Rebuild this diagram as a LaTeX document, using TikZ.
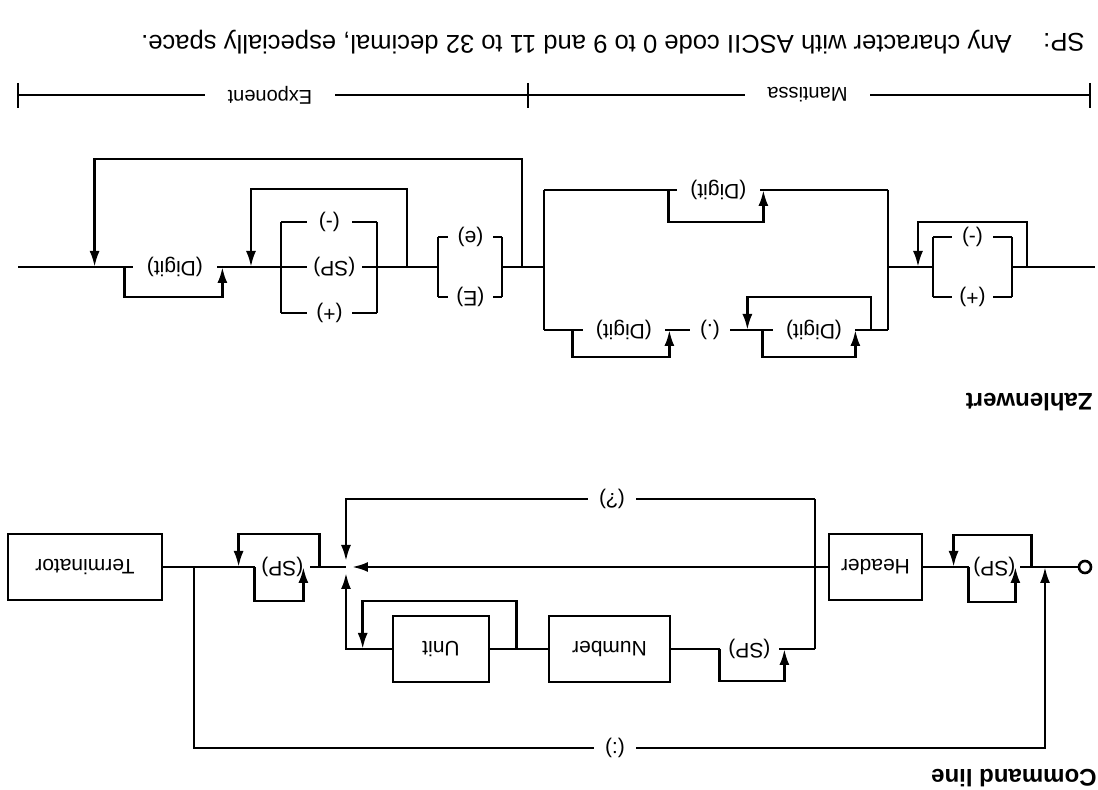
\documentclass[tikz,border=0pt]{standalone}
\usepackage{fontspec}
\setmainfont{Liberation Sans}
\usepackage{tikz}
\usetikzlibrary{arrows.meta, calc}
\tikzset{
  rail/.style={line width=1.3pt},
  arrow/.style={rail, -{Latex[length=8pt,width=5pt]}},
  box/.style={draw, line width=1.3pt, minimum width=#1, minimum height=33pt,
    inner sep=0pt, font=\fontsize{10.5}{12}\selectfont},
  term/.style={inner sep=0pt, minimum width=#1, font=\fontsize{10.5}{12}\selectfont},
  dimtext/.style={inner sep=0pt, minimum width=#1, font=\fontsize{10}{12}\selectfont},
  dim/.style={line width=1pt},
  title/.style={anchor=west, inner sep=0pt, font=\fontsize{12}{14}\selectfont\bfseries},
  note/.style={anchor=west, inner sep=0pt, font=\fontsize{12.8}{15}\selectfont}
}

\begin{document}
\begin{tikzpicture}[rotate=180, transform shape, x=0.5pt, y=0.5pt]
  \useasboundingbox (0,0) rectangle (1098,790);

  % === Command line ===
  \node[title] (cmdtitle) at (1,778) {Command line};

  \node[draw, circle, rail, minimum size=6pt, inner sep=0pt] (start) at (13,567) {};
  \node[term=25.5pt] (spa) at (103.5,567) {(SP)};
  \node[box=46.5pt] (header) at (222.5,567) {Header};
  \node[term=24pt] (quest) at (486,499) {(?)};
  \node[term=29.5pt] (spb) at (348.5,649) {(SP)};
  \node[box=60.5pt] (number) at (488.5,649) {Number};
  \node[box=48pt] (unit) at (657,649) {Unit};
  \node[term=27.5pt] (spc) at (815.5,567) {(SP)};
  \node[box=77pt] (terminator) at (1013,567) {Terminator};
  \node[term=21pt] (colon) at (483,748) {(:)};

  \coordinate (split) at (283,567);
  \coordinate (cross) at (752,567);
  \coordinate (back) at (904,567);
  \coordinate (colonin) at (53,567);

  \draw[rail] (start) -- (spa.west);
  \draw[rail] (spa.east) -- (header);
  \draw[arrow, shorten >=3pt] (header) -- (cross);
  \draw[rail] (split |- quest) -- (split |- spb);
  \draw[rail] (split |- quest) -- (quest.west);
  \draw[arrow, shorten >=3pt] (quest.east) -| (cross);
  \draw[rail] (split |- spb) -- (spb.west);
  \draw[rail] (spb.east) -- (number);
  \draw[rail] (number) -- (unit);
  \draw[arrow, shorten >=3pt] (unit) -| (cross);
  \draw[rail] (cross) -- (spc.west);
  \draw[rail] (spc.east) -- (terminator);

  % loops
  \draw[arrow] ($(spa.west)+(-11,0)$) -- ++(0,-32) -| ($(spa.east)+(15,0)$);
  \draw[arrow] (spa.east) -- ++(0,35) -| ($(spa.west)+(5,0)$);
  \draw[arrow] (spb.east) -- ++(0,32) -| ($(spb.west)+(-5,0)$);
  \draw[arrow] ($(number.east)+(31,0)$) -- ++(0,-48) -| ($(unit.east)+(29,0)$);
  \draw[arrow] ($(spc.west)+(-9,0)$) -- ++(0,-33) -| ($(spc.east)+(16,0)$);
  \draw[arrow] (spc.east) -- ++(0,34) -| ($(spc.west)+(7,0)$);
  \draw[rail] (back) |- (colon.east);
  \draw[arrow] (colon.west) -| (colonin);

  % === Zahlenwert ===
  \node[title] (zwtitle) at (5,402) {Zahlenwert};

  \node[term=20.5pt] (sgplus) at (125.5,297) {(+)};
  \node[term=20.5pt] (sgminus) at (125.5,237) {(-)};
  \node[term=41.5pt] (intdigit) at (379.5,190) {(Digit)};
  \node[term=41pt] (predigit) at (284,330) {(Digit)};
  \node[term=20pt] (point) at (388,330) {(.)};
  \node[term=41pt] (postdigit) at (474,330) {(Digit)};
  \node[term=22.5pt] (expbig) at (627.5,297) {(E)};
  \node[term=22.5pt] (expsmall) at (627.5,237) {(e)};
  \node[term=22.5pt] (esplus) at (768.5,313) {(+)};
  \node[term=27.5pt] (essp) at (763.5,267) {(SP)};
  \node[term=22.5pt] (esminus) at (768.5,222) {(-)};
  \node[term=42pt] (expdigit) at (923,267) {(Digit)};

  \coordinate (zin) at (3,267);
  \coordinate (zout) at (1080,267);
  \coordinate (signl) at (86,267);
  \coordinate (signr) at (165,267);
  \coordinate (mantl) at (210,267);
  \coordinate (mantr) at (554,267);
  \coordinate (eel) at (596,267);
  \coordinate (eer) at (660,267);
  \coordinate (esl) at (721,267);
  \coordinate (esr) at (817,267);

  \draw[rail] (zin) -- (signl);
  \draw[rail] (signl |- sgminus) -- (signl |- sgplus);
  \draw[rail] (signr |- sgminus) -- (signr |- sgplus);
  \draw[rail] (signl |- sgplus) -- (sgplus.west) (sgplus.east) -- (signr |- sgplus);
  \draw[rail] (signl |- sgminus) -- (sgminus.west) (sgminus.east) -- (signr |- sgminus);
  \draw[rail] (signr) -- (mantl);

  \draw[rail] (mantl |- intdigit) -- (mantl |- predigit);
  \draw[rail] (mantr |- intdigit) -- (mantr |- predigit);
  \draw[rail] (mantl |- intdigit) -- (intdigit.west) (intdigit.east) -- (mantr |- intdigit);
  \draw[rail] (mantl |- predigit) -- (predigit.west);
  \draw[rail] (predigit.east) -- (point.west);
  \draw[rail] (point.east) -- (postdigit.west);
  \draw[rail] (postdigit.east) -- (mantr |- postdigit);
  \draw[rail] (mantr) -- (eel);

  \draw[rail] (eel |- expsmall) -- (eel |- expbig);
  \draw[rail] (eer |- expsmall) -- (eer |- expbig);
  \draw[rail] (eel |- expbig) -- (expbig.west) (expbig.east) -- (eer |- expbig);
  \draw[rail] (eel |- expsmall) -- (expsmall.west) (expsmall.east) -- (eer |- expsmall);
  \draw[rail] (eer) -- (esl);

  \draw[rail] (esl |- esminus) -- (esl |- esplus);
  \draw[rail] (esr |- esminus) -- (esr |- esplus);
  \draw[rail] (esl |- esplus) -- (esplus.west) (esplus.east) -- (esr |- esplus);
  \draw[rail] (esl) -- (essp.west) (essp.east) -- (esr);
  \draw[rail] (esl |- esminus) -- (esminus.west) (esminus.east) -- (esr |- esminus);
  \draw[rail] (esr) -- (expdigit.west);
  \draw[rail] (expdigit.east) -- (zout);

  % loops
  \draw[arrow] ($(signl)+(-15,0)$) -- ++(0,-45) -| ($(signr)+(15,0)$);
  \draw[arrow] ($(intdigit.east)+(8,0)$) -- ++(0,32) -| ($(intdigit.west)+(-3,0)$);
  \draw[arrow] ($(mantl |- predigit)+(17,0)$) -- ++(0,-33) -| ($(point.west)+(-17,0)$);
  \draw[arrow] ($(predigit.east)+(10,0)$) -- ++(0,27) -| (predigit.west);
  \draw[arrow] ($(postdigit.east)+(10,0)$) -- ++(0,27) -| ($(postdigit.west)+(-4,0)$);
  \draw[arrow] ($(mantr)+(22,0)$) -- ++(0,-108) -| ($(expdigit.east)+(38,0)$);
  \draw[arrow] ($(esl)+(-30,0)$) -- ++(0,-78) -| ($(esr)+(30,0)$);
  \draw[arrow] ($(expdigit.east)+(8,0)$) -- ++(0,30) -| ($(expdigit.west)+(-5,0)$);

  % === Mantissa / Exponent ===
  \coordinate (diml) at (8,95);
  \coordinate (dimm) at (570,95);
  \coordinate (dimr) at (1080,95);
  \node[dimtext=62.5pt] (mantlabel) at (290.5,95) {Mantissa};
  \node[dimtext=65pt] (explabel) at (828,95) {Exponent};

  \draw[dim] (diml) -- (mantlabel.west) (mantlabel.east) -- (dimm);
  \draw[dim] (dimm) -- (explabel.west) (explabel.east) -- (dimr);
  \foreach \t in {diml, dimm, dimr}
    \draw[dim] ($(\t)+(0,-12)$) -- ($(\t)+(0,13)$);

  % === Footnote ===
  \node[note] (spkey) at (13,42) {SP:};
  \node[note] (spnote) at (86,42) {Any character with ASCII code 0 to 9 and 11 to 32 decimal, especially space.};
\end{tikzpicture}
\end{document}
